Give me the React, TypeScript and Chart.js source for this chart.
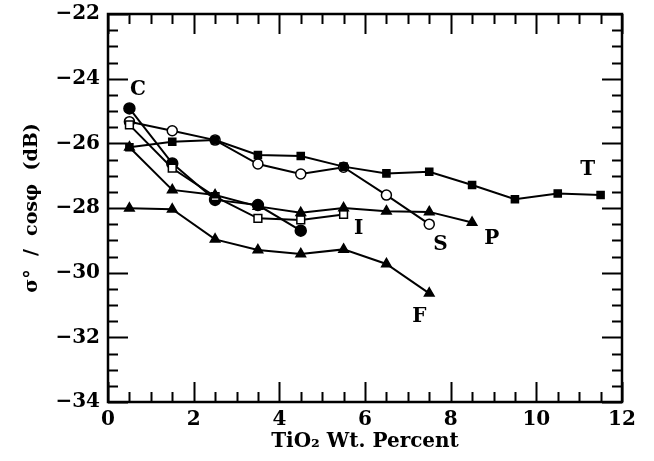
import { useEffect, useRef } from "react";
import { Chart, registerables } from "chart.js";

Chart.register(...registerables);

// ---- data ----
const xValues = [0.5, 1.5, 2.5, 3.5, 4.5, 5.5, 6.5, 7.5, 8.5, 9.5, 10.5, 11.5];
const seriesC = [-24.92, -26.62, -27.75, -27.91, -28.7];
const seriesI = [-25.43, -26.77, -27.65, -28.32, -28.37, -28.2];
const seriesS = [-25.33, -25.61, -25.9, -26.64, -26.95, -26.74, -27.6, -28.5];
const seriesT = [-26.12, -25.95, -25.9, -26.36, -26.39, -26.72, -26.93, -26.88, -27.29, -27.73, -27.55, -27.6];
const seriesP = [-26.12, -27.44, -27.6, -27.95, -28.15, -28.0, -28.1, -28.12, -28.45];
const seriesF = [-28.01, -28.04, -28.97, -29.3, -29.42, -29.28, -29.73, -30.64];

const xMin = 0;
const xMax = 12;
const yMin = -34;
const yMax = -22;

const labelNames = ["C", "I", "S", "T", "P", "F"];
const labelX = [0.7, 5.85, 7.76, 11.2, 8.96, 7.27];
const labelY = [-24.35, -28.65, -29.15, -26.83, -28.94, -31.36];

const xTitle = "TiO\u2082 Wt. Percent";
const yTitle = "\u03c3\u00b0  /  cos\u03c6  (dB)";

const FONT = "'DejaVu Serif', 'Liberation Serif', serif";

function pts(values: number[]) {
  return values.map((y, i) => ({ x: xValues[i], y }));
}

const framePlugin = {
  id: "frameTicks",
  afterDatasetsDraw(chart: any) {
    const { ctx, chartArea } = chart;
    const xs = chart.scales.x;
    const ys = chart.scales.y;
    const { left, right, top, bottom } = chartArea;
    ctx.save();
    ctx.strokeStyle = "#000";
    ctx.lineWidth = 2;
    for (let v = xMin; v <= xMax + 1e-9; v += 0.5) {
      const px = Math.round(xs.getPixelForValue(v)) + 0.5;
      const len = Math.abs(v % 2) < 1e-9 ? 20 : 10;
      ctx.beginPath();
      ctx.moveTo(px, bottom);
      ctx.lineTo(px, bottom - len);
      ctx.moveTo(px, top);
      ctx.lineTo(px, top + len);
      ctx.stroke();
    }
    for (let v = yMin; v <= yMax + 1e-9; v += 0.5) {
      const py = Math.round(ys.getPixelForValue(v)) + 0.5;
      const len = Math.abs(v % 2) < 1e-9 ? 20 : 10;
      ctx.beginPath();
      ctx.moveTo(left, py);
      ctx.lineTo(left + len, py);
      ctx.moveTo(right, py);
      ctx.lineTo(right - len, py);
      ctx.stroke();
    }
    ctx.lineWidth = 2.5;
    ctx.strokeRect(left, top, right - left, bottom - top);
    ctx.fillStyle = "#000";
    ctx.font = `bold 20px ${FONT}`;
    ctx.textAlign = "center";
    ctx.textBaseline = "middle";
    labelNames.forEach((name, i) => {
      ctx.fillText(name, xs.getPixelForValue(labelX[i]), ys.getPixelForValue(labelY[i]));
    });
    ctx.restore();
  },
};

export default function App() {
  const ref = useRef<HTMLCanvasElement | null>(null);

  useEffect(() => {
    document.body.style.margin = "0";
    const canvas = ref.current;
    if (!canvas) return;
    const common = {
      borderColor: "#000",
      borderWidth: 2,
      showLine: true,
      tension: 0,
      pointBorderColor: "#000",
      pointBorderWidth: 1.5,
    };
    const tickFont = { family: FONT, size: 20, weight: "bold" as const };
    const titleFont = { family: FONT, size: 19, weight: "bold" as const };
    const chart = new Chart(canvas, {
      type: "line",
      data: {
        datasets: [
          { ...common, label: "F", data: pts(seriesF), pointStyle: "triangle", pointRadius: 5.5, pointBackgroundColor: "#000" },
          { ...common, label: "P", data: pts(seriesP), pointStyle: "triangle", pointRadius: 5.5, pointBackgroundColor: "#000" },
          { ...common, label: "T", data: pts(seriesT), pointStyle: "rect", pointRadius: 5, pointBackgroundColor: "#000" },
          { ...common, label: "I", data: pts(seriesI), pointStyle: "rect", pointRadius: 5.5, pointBackgroundColor: "#fff" },
          { ...common, label: "S", data: pts(seriesS), pointStyle: "circle", pointRadius: 5, pointBackgroundColor: "#fff" },
          { ...common, label: "C", data: pts(seriesC), pointStyle: "circle", pointRadius: 5.5, pointBackgroundColor: "#000" },
        ],
      },
      options: {
        animation: false,
        responsive: false,
        maintainAspectRatio: false,
        layout: { padding: { top: 14, right: 32, bottom: 0, left: 0 } },
        plugins: { legend: { display: false }, tooltip: { enabled: false } },
        scales: {
          x: {
            type: "linear",
            min: xMin,
            max: xMax,
            grid: { display: false, drawTicks: false, tickLength: 0 },
            border: { display: false },
            ticks: {
              stepSize: 2,
              padding: 6,
              color: "#000",
              font: tickFont,
              maxRotation: 0,
            },
            title: {
              display: true,
              text: xTitle,
              color: "#000",
              font: { family: FONT, size: 20, weight: "bold" as const },
              padding: { top: 0, bottom: 7 },
            },
            afterFit: (s: any) => {
              s.height = 59;
              s.paddingLeft = 0;
              s.paddingRight = 0;
            },
          },
          y: {
            type: "linear",
            min: yMin,
            max: yMax,
            grid: { display: false, drawTicks: false, tickLength: 0 },
            border: { display: false },
            ticks: {
              stepSize: 2,
              padding: 8,
              color: "#000",
              font: tickFont,
              callback: (v: any) => (v < 0 ? "\u2212" + Math.abs(v) : String(v)),
            },
            title: {
              display: true,
              text: yTitle,
              color: "#000",
              font: titleFont,
              padding: { top: 21, bottom: 0 },
            },
            afterFit: (s: any) => {
              s.width = 108;
              s.paddingTop = 0;
              s.paddingBottom = 0;
            },
          },
        },
      },
      plugins: [framePlugin],
    });
    return () => chart.destroy();
  }, []);

  return (
    <div style={{ width: 654, height: 461, background: "#fff" }}>
      <canvas ref={ref} width={654} height={461} style={{ display: "block", width: 654, height: 461 }} />
    </div>
  );
}
